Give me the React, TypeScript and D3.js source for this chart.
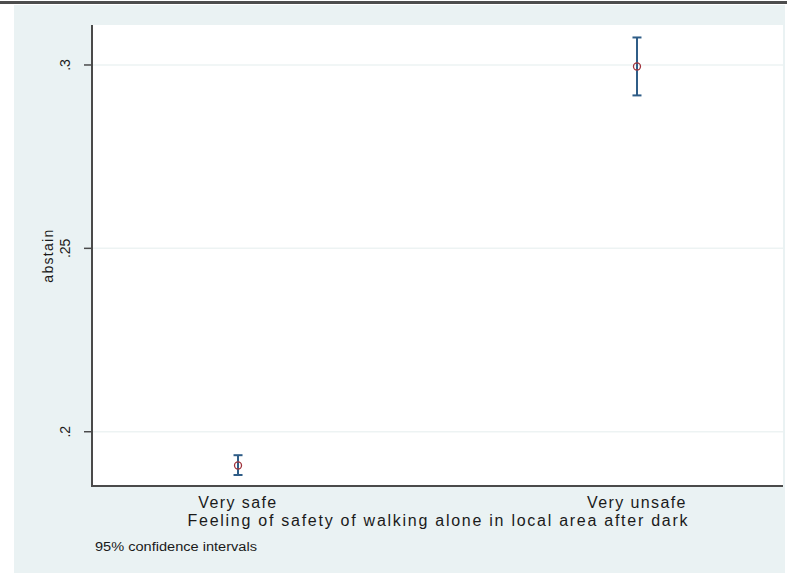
import React from "react";
import * as d3 from "d3";

const categories: string[] = ["Very safe", "Very unsafe"];
const means: number[] = [0.1908, 0.2996];
const lower: number[] = [0.1882, 0.2917];
const upper: number[] = [0.1936, 0.3075];
const yTicks: number[] = [0.2, 0.25, 0.3];
const yTickLabels: string[] = [".2", ".25", ".3"];
const yTitle = "abstain";
const xTitle = "Feeling of safety of walking alone in local area after dark";
const note = "95% confidence intervals";

const W = 787;
const H = 574;
const plot = { left: 92, right: 783, top: 25, bottom: 486 };
const font = "'Liberation Sans', Arial, sans-serif";

export default function App() {
  const y = d3.scaleLinear().domain([0.1852, 0.3109]).range([plot.bottom, plot.top]);
  const x = d3
    .scaleLinear()
    .domain([1 - 0.366, categories.length + 0.366])
    .range([plot.left, plot.right]);
  const errColor = "#2f5d87";
  const markColor = "#a0333c";
  const axisColor = "#4a4a4a";
  const textColor = "#1a1a1a";
  const cx = (plot.left + plot.right) / 2;
  const cy = (plot.top + plot.bottom) / 2;

  return (
    <svg
      width={W}
      height={H}
      style={{ position: "absolute", left: 0, top: 0, background: "#ffffff" }}
    >
      <rect x={0} y={0} width={W} height={H} fill="#ffffff" />
      <rect x={14} y={5} width={771} height={568} fill="#eaf2f3" />
      <rect x={0} y={1} width={W} height={3} fill="#4d4d4d" />
      <rect
        x={plot.left}
        y={plot.top}
        width={plot.right - plot.left}
        height={plot.bottom - plot.top}
        fill="#ffffff"
      />
      {yTicks.map((t, i) => (
        <g key={i}>
          <line
            x1={plot.left}
            x2={plot.right}
            y1={y(t)}
            y2={y(t)}
            stroke="#edf3f3"
            strokeWidth={1.5}
          />
          <line x1={plot.left - 8} x2={plot.left} y1={y(t)} y2={y(t)} stroke={axisColor} strokeWidth={1.5} />
          <text
            transform={`translate(${70},${y(t)}) rotate(-90)`}
            textAnchor="middle"
            fontFamily={font}
            fontSize={14}
            fill={textColor}
          >
            {yTickLabels[i]}
          </text>
        </g>
      ))}
      <line x1={plot.left} x2={plot.left} y1={plot.top} y2={plot.bottom + 1} stroke={axisColor} strokeWidth={2} />
      <line x1={plot.left} x2={plot.right} y1={plot.bottom} y2={plot.bottom} stroke={axisColor} strokeWidth={2} />
      <text
        transform={`translate(${53},${cy}) rotate(-90)`}
        textAnchor="middle"
        fontFamily={font}
        fontSize={14}
        letterSpacing={1.3}
        fill={textColor}
      >
        {yTitle}
      </text>
      {categories.map((c, i) => {
        const px = x(i + 1);
        return (
          <g key={c}>
            <line x1={px} x2={px} y1={y(lower[i])} y2={y(upper[i])} stroke={errColor} strokeWidth={2} />
            <line x1={px - 4.5} x2={px + 4.5} y1={y(lower[i])} y2={y(lower[i])} stroke={errColor} strokeWidth={2} />
            <line x1={px - 4.5} x2={px + 4.5} y1={y(upper[i])} y2={y(upper[i])} stroke={errColor} strokeWidth={2} />
            <circle cx={px} cy={y(means[i])} r={3.5} fill="none" stroke={markColor} strokeWidth={1.3} />
            <text
              x={px}
              y={508}
              textAnchor="middle"
              fontFamily={font}
              fontSize={16}
              letterSpacing={1.4}
              fill={textColor}
            >
              {c}
            </text>
          </g>
        );
      })}
      <text
        x={cx}
        y={526}
        textAnchor="middle"
        fontFamily={font}
        fontSize={16}
        textLength={500}
        lengthAdjust="spacing"
        fill={textColor}
      >
        {xTitle}
      </text>
      <text
        x={95}
        y={551}
        fontFamily={font}
        fontSize={12}
        textLength={162}
        lengthAdjust="spacingAndGlyphs"
        fill={textColor}
      >
        {note}
      </text>
    </svg>
  );
}
